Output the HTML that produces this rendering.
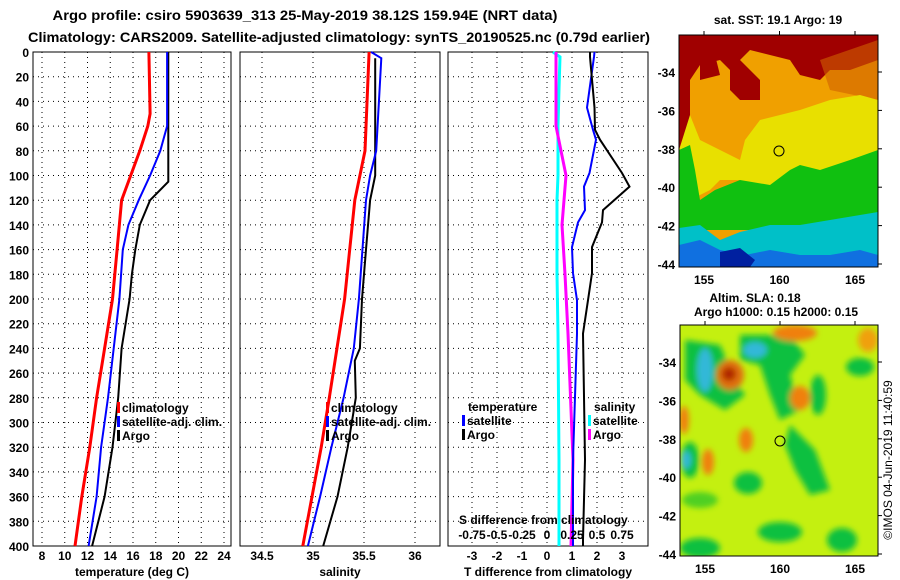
<!DOCTYPE html>
<html><head><meta charset="utf-8">
<style>
html,body{margin:0;padding:0;background:#fff;}
svg{display:block;font-family:"Liberation Sans",sans-serif;font-weight:bold;}
</style></head>
<body>
<svg id="fig" width="900" height="580" viewBox="0 0 900 580" xmlns="http://www.w3.org/2000/svg">
<defs>
<filter id="bl" x="-30%" y="-30%" width="160%" height="160%"><feGaussianBlur stdDeviation="3"/></filter>
<clipPath id="c1"><rect x="679" y="35" width="199" height="232"/></clipPath>
<clipPath id="c2"><rect x="680" y="325" width="198" height="231"/></clipPath>
</defs>
<text x="305" y="20" font-size="14" text-anchor="middle" textLength="505" lengthAdjust="spacingAndGlyphs">Argo profile: csiro 5903639_313 25-May-2019 38.12S 159.94E (NRT data)</text>
<text x="339" y="42" font-size="14" text-anchor="middle" textLength="622" lengthAdjust="spacingAndGlyphs">Climatology: CARS2009. Satellite-adjusted climatology: synTS_20190525.nc (0.79d earlier)</text>

<g id="maps">
<text x="778" y="24" font-size="12" text-anchor="middle">sat. SST: 19.1 Argo: 19</text>
<g clip-path="url(#c1)">
<rect x="679" y="35" width="199" height="232" fill="#f0a000"/>
<path d="M679 35 H878 V60 L850 70 L830 70 L820 80 L800 75 L790 60 L770 55 L750 50 L740 60 L760 80 L760 100 L740 100 L730 90 L730 70 L720 60 L700 65 L690 80 L690 140 L679 150 Z" fill="#a00000"/>
<path d="M700 60 L715 55 L720 75 L700 80 Z" fill="#a00000"/>
<path d="M820 60 L878 40 V100 L830 90 Z" fill="#d06000" opacity="0.6"/>
<path d="M690 115 L700 140 L720 150 L740 160 L745 140 L760 120 L780 115 L800 110 L830 100 L860 95 L878 100 V170 L860 175 L830 180 L810 170 L795 180 L780 190 L760 190 L740 180 L720 180 L710 190 L690 200 L679 190 V150 Z" fill="#e8e000"/>
<path d="M679 150 L690 145 L695 170 L700 200 L715 190 L740 180 L770 185 L790 170 L800 165 L820 170 L850 160 L878 150 V230 H679 Z" fill="#10c010"/>
<path d="M679 228 L700 225 L720 240 L740 232 L770 225 L800 225 L830 220 L860 215 L878 212 V267 H679 Z" fill="#00c0c8"/>
<path d="M679 245 L700 240 L720 250 L745 255 L770 250 L800 255 L830 255 L860 250 L878 255 V267 H679 Z" fill="#1070e0"/>
<path d="M720 252 L740 248 L755 260 L750 267 L720 267 Z" fill="#0020a0"/>
<circle cx="779" cy="151" r="5" fill="none" stroke="#000" stroke-width="1"/>
</g>
<rect x="679" y="35" width="199" height="232" fill="none" stroke="#000"/>
<text x="755" y="302" font-size="12" text-anchor="middle">Altim. SLA: 0.18</text>
<text x="776" y="316" font-size="12" text-anchor="middle">Argo h1000: 0.15 h2000: 0.15</text>
<g clip-path="url(#c2)">
<rect x="680" y="325" width="198" height="231" fill="#c4f010"/>
<g filter="url(#bl)">
<path d="M685 340 L720 345 L735 380 L745 395 L725 410 L700 395 L685 380 Z" fill="#10c040"/>
<ellipse cx="705" cy="370" rx="8" ry="22" fill="#30b8d8"/>
<path d="M740 335 L790 335 L805 355 L790 375 L800 410 L780 420 L770 395 L760 365 L740 360 Z" fill="#10c040"/>
<ellipse cx="755" cy="350" rx="12" ry="8" fill="#30b8d8"/>
<ellipse cx="730" cy="375" rx="14" ry="15" fill="#e07010"/>
<ellipse cx="729" cy="374" rx="7" ry="7" fill="#b02800"/>
<ellipse cx="795" cy="333" rx="22" ry="8" fill="#f08010"/>
<ellipse cx="800" cy="398" rx="10" ry="12" fill="#f08010"/>
<ellipse cx="746" cy="440" rx="7" ry="12" fill="#f08010"/>
<ellipse cx="708" cy="462" rx="6" ry="13" fill="#f08010"/>
<ellipse cx="684" cy="420" rx="5" ry="14" fill="#f08010"/>
<ellipse cx="690" cy="460" rx="9" ry="18" fill="#10c040"/>
<ellipse cx="686" cy="460" rx="5" ry="9" fill="#30b8d8"/>
<ellipse cx="748" cy="483" rx="14" ry="11" fill="#10c040"/>
<path d="M790 425 L815 450 L830 490 L810 495 L795 470 L785 445 Z" fill="#10c040"/>
<ellipse cx="818" cy="395" rx="8" ry="20" fill="#10c040"/>
<ellipse cx="860" cy="367" rx="14" ry="9" fill="#10c040"/>
<ellipse cx="868" cy="340" rx="10" ry="12" fill="#f0a010"/>
<ellipse cx="780" cy="532" rx="22" ry="10" fill="#10c040"/>
<ellipse cx="842" cy="540" rx="15" ry="12" fill="#10c040"/>
<ellipse cx="700" cy="548" rx="20" ry="10" fill="#10c040"/>
<ellipse cx="700" cy="500" rx="18" ry="8" fill="#50d020"/>
</g>
<circle cx="780" cy="441" r="5" fill="none" stroke="#000" stroke-width="1"/>
</g>
<rect x="680" y="325" width="198" height="231" fill="none" stroke="#000"/>
<text transform="translate(892,460) rotate(-90)" font-size="12" font-weight="normal" text-anchor="middle">©IMOS 04-Jun-2019 11:40:59</text>
</g>
<g id="plots"></g>
</svg>
<script>
// Profile data
const depthT = [0, 50, 60, 80, 100, 120, 160, 200, 240, 280, 320, 360, 400];
const tempClim = [17.4, 17.5, 17.3, 16.6, 15.8, 15.0, 14.6, 14.2, 13.5, 12.8, 12.2, 11.5, 10.9];
const depthTs = [0, 60, 80, 100, 120, 140, 160, 200, 240, 280, 320, 360, 400];
const tempSat = [19.0, 19.0, 18.4, 17.5, 16.5, 15.6, 15.1, 14.8, 14.3, 13.8, 13.2, 12.8, 12.1];
const depthTa = [0, 105, 120, 140, 160, 180, 200, 240, 280, 320, 360, 400];
const tempArgo = [19.1, 19.1, 17.5, 16.6, 16.2, 15.9, 15.7, 15.0, 14.7, 14.2, 13.5, 12.4];
const depthS = [0, 80, 120, 200, 280, 320, 400];
const salClim = [35.55, 35.51, 35.41, 35.31, 35.16, 35.08, 34.90];
const depthSs = [0, 5, 20, 80, 100, 120, 200, 240, 280, 320, 360, 400];
const salSat = [35.57, 35.67, 35.66, 35.62, 35.56, 35.52, 35.45, 35.40, 35.30, 35.18, 35.07, 34.95];
const depthSa = [5, 100, 120, 160, 200, 240, 250, 280, 300, 320, 360, 400];
const salArgo = [35.61, 35.61, 35.56, 35.52, 35.48, 35.46, 35.41, 35.42, 35.38, 35.34, 35.24, 35.10];
const depthD = [0, 4, 45, 63, 71, 98, 109, 128, 138, 158, 179, 201, 228, 330, 395, 400];
const tDiffSat = [1.9, 1.88, 1.6, 1.84, 1.96, 1.7, 1.48, 1.52, 1.24, 1.0, 1.04, 1.2, 1.2, 1.04, 1.04, 1.04];
const tDiffArgo = [1.72, 1.72, 1.9, 1.92, 2.12, 3.0, 3.3, 2.24, 2.2, 1.8, 1.8, 1.64, 1.44, 1.52, 1.44, 1.44];
const depthDs = [0, 4, 30, 60, 80, 100, 120, 140, 180, 228, 330, 400];
const sDiffSat = [0.06, 0.13, 0.12, 0.11, 0.11, 0.11, 0.10, 0.10, 0.10, 0.11, 0.12, 0.12];
const sDiffArgo = [0.09, 0.09, 0.09, 0.09, 0.14, 0.19, 0.17, 0.15, 0.18, 0.21, 0.26, 0.24];
const depthTicks = [0,20,40,60,80,100,120,140,160,180,200,220,240,260,280,300,320,340,360,380,400];
const tTicks = [8,10,12,14,16,18,20,22,24];
const sTicks = [34.5,35,35.5,36];
const dTicks = [-3,-2,-1,0,1,2,3];
const dsTicks = ['-0.75','-0.5','-0.25','0','0.25','0.5','0.75'];

const NS = 'http://www.w3.org/2000/svg';
const root = document.getElementById('plots');
const Y0 = 52, Y1 = 546;
const yD = d => Y0 + d * (Y1 - Y0) / 400;
function el(tag, attrs, parent, txt) {
  const e = document.createElementNS(NS, tag);
  for (const k in attrs) e.setAttribute(k, attrs[k]);
  if (txt !== undefined) e.textContent = txt;
  (parent || root).appendChild(e);
  return e;
}
function panel(name, x0, x1, xs, tickVals, xf, xlabel, showY) {
  const g = el('g', {});
  
  
  depthTicks.forEach(d => {
    if (d > 0 && d < 400) {
      const l = el('line', {x1: x0, x2: x1, y1: yD(d), y2: yD(d), stroke: '#000', 'stroke-width': 1, 'stroke-dasharray': '1,4'}, g);
      
      
    }
    if (showY) {
      const t = el('text', {x: 29, y: yD(d) + 5, 'font-size': 12, 'text-anchor': 'end'}, g, String(d));
      
      
    }
  });
  tickVals.forEach(v => {
    const x = xf(v);
    const l = el('line', {x1: x, x2: x, y1: Y0, y2: Y1, stroke: '#000', 'stroke-width': 1, 'stroke-dasharray': '1,4'}, g);
    
    
    const t = el('text', {x: x, y: 560, 'font-size': 12, 'text-anchor': 'middle'}, g, String(v));
    
    
  });
  const fr = el('rect', {x: x0, y: Y0, width: x1 - x0, height: Y1 - Y0, fill: 'none', stroke: '#000'}, g);
  
  
  const xl = el('text', {x: (x0 + x1) / 2, y: 576, 'font-size': 12, 'text-anchor': 'middle'}, g, xlabel);
  
  
  return g;
}
function series(g, name, depths, vals, xf, color, w) {
  const pts = depths.map((d, i) => xf(vals[i]).toFixed(1) + ',' + yD(d).toFixed(1)).join(' ');
  const p = el('polyline', {points: pts, fill: 'none', stroke: color, 'stroke-width': w}, g);
  
  
}
function legend(g, x, y, color, label) {
  const m = el('rect', {x: x, y: y - 10, width: 3, height: 11, fill: color}, g);
  
  
  const t = el('text', {x: x + 5, y: y, 'font-size': 12}, g, label);
  
  
}
// Panel 1 temperature
const xT = v => 42 + (v - 8) * 11.375;
const g1 = panel('temperature-panel', 33, 231, null, tTicks, xT, 'temperature (deg C)', true);
series(g1, 'temp-argo-line', depthTa, tempArgo, xT, '#000', 2);
series(g1, 'temp-satellite-line', depthTs, tempSat, xT, '#0000ff', 2);
series(g1, 'temp-climatology-line', depthT, tempClim, xT, '#ff0000', 3);
legend(g1, 117, 412, '#ff0000', 'climatology');
legend(g1, 117, 426, '#0000ff', 'satellite-adj. clim.');
legend(g1, 117, 440, '#000', 'Argo');
// Panel 2 salinity
const xS = v => 262 + (v - 34.5) * 102;
const g2 = panel('salinity-panel', 240, 440, null, sTicks, xS, 'salinity', false);
series(g2, 'sal-argo-line', depthSa, salArgo, xS, '#000', 2);
series(g2, 'sal-satellite-line', depthSs, salSat, xS, '#0000ff', 2);
series(g2, 'sal-climatology-line', depthS, salClim, xS, '#ff0000', 3);
legend(g2, 326, 412, '#ff0000', 'climatology');
legend(g2, 326, 426, '#0000ff', 'satellite-adj. clim.');
legend(g2, 326, 440, '#000', 'Argo');
// Panel 3 differences
const xD = v => 547 + v * 25;
const xDs = v => 547 + v * 100;
const g3 = panel('difference-panel', 448, 648, null, dTicks, xD, 'T difference from climatology', false);
series(g3, 's-diff-satellite-line', depthDs, sDiffSat, xDs, '#00ffff', 3);
series(g3, 's-diff-argo-line', depthDs, sDiffArgo, xDs, '#ff00ff', 3);
series(g3, 't-diff-satellite-line', depthD, tDiffSat, xD, '#0000ff', 2);
series(g3, 't-diff-argo-line', depthD, tDiffArgo, xD, '#000', 2);
const th = el('text', {x: 468, y: 411, 'font-size': 12}, g3, 'temperature');


const sh = el('text', {x: 594, y: 411, 'font-size': 12}, g3, 'salinity');


legend(g3, 462, 425, '#0000ff', 'satellite');
legend(g3, 462, 439, '#000', 'Argo');
legend(g3, 588, 425, '#00ffff', 'satellite');
legend(g3, 588, 439, '#ff00ff', 'Argo');
const st = el('text', {x: 459, y: 524, 'font-size': 12}, g3, 'S difference from climatology');


dsTicks.forEach((s, i) => {
  const t = el('text', {x: xDs(parseFloat(s)), y: 539, 'font-size': 12, 'text-anchor': 'middle'}, g3, s);
  
  
});
// map axes
const latTicks = [-34,-36,-38,-40,-42,-44];
const lonTicks = [155,160,165];
function mapAxes(name, x0, x1, y0, y1, latY, lonX) {
  const g = el('g', {});
  
  
  latTicks.forEach(l => {
    const y = latY(l);
    el('line', {x1: x1, x2: x1 + 4, y1: y, y2: y, stroke: '#000'}, g);
    const t = el('text', {x: x0 - 4, y: y + 5, 'font-size': 12, 'text-anchor': 'end'}, g, String(l));
    
    
  });
  lonTicks.forEach(l => {
    const x = lonX(l);
    el('line', {x1: x, x2: x, y1: y0 - 4, y2: y0, stroke: '#000'}, g);
    const t = el('text', {x: x, y: y1 + 17, 'font-size': 12, 'text-anchor': 'middle'}, g, String(l));
    
    
  });
}
mapAxes('sst-map-axes', 679, 878, 35, 267, l => 72 + (-34 - l) * 19.2, l => 704 + (l - 155) * 15.1);
mapAxes('sla-map-axes', 680, 878, 325, 556, l => 362 + (-34 - l) * 19.2, l => 705 + (l - 155) * 15.0);
</script>
</body></html>
